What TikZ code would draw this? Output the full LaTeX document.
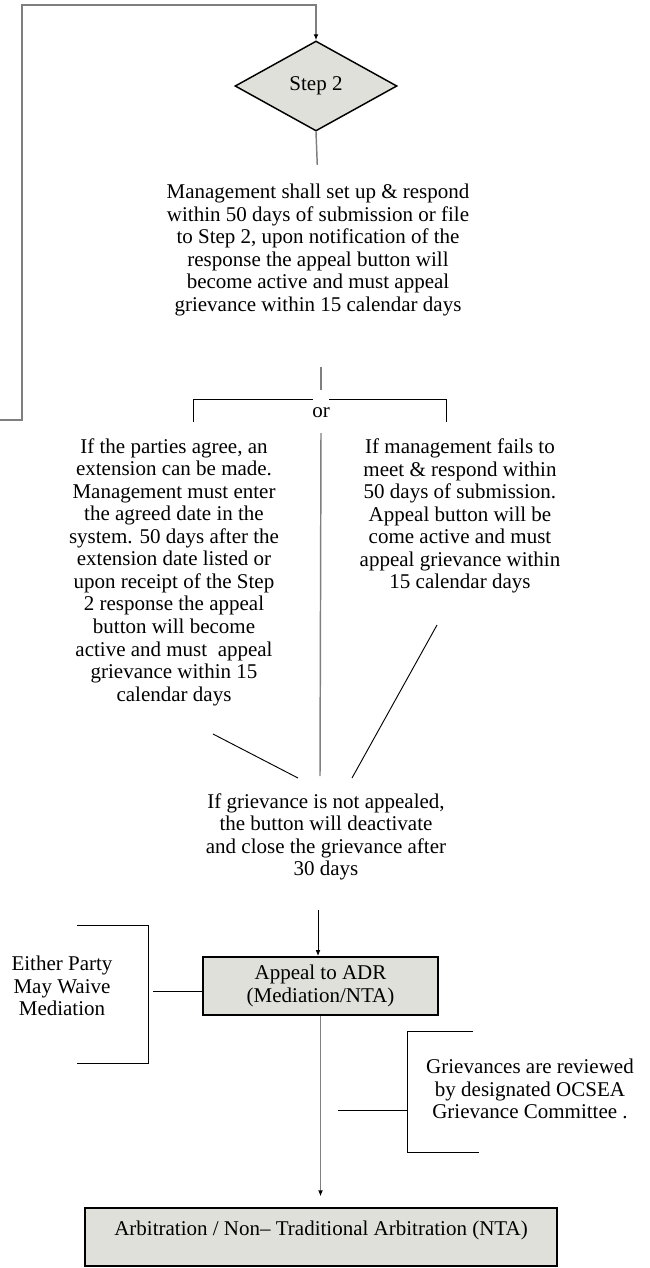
\documentclass[tikz,border=0pt]{standalone}
\usepackage{fontspec}
\setmainfont{Liberation Serif}
\usetikzlibrary{shapes.geometric,arrows.meta}
\definecolor{shade}{HTML}{E0E0DA}
\definecolor{linkgray}{HTML}{7F7F7F}

\begin{document}
\begin{tikzpicture}[x=0.75pt,y=-0.75pt,>={Latex[length=4.5pt,width=3.6pt,color=black]},
    every node/.style={font=\fontsize{15.75}{16.9}\selectfont},
    txt/.style={align=center,inner sep=0pt},
    graylink/.style={draw=linkgray,line width=1.1pt},
    thinlink/.style={draw=black,line width=0.7pt},
    shadebox/.style={draw=black,line width=1.4pt,fill=shade,inner sep=0pt}]
    \useasboundingbox (0,0) rectangle (650,1268);
    \node[diamond,shadebox,line width=1.1pt,aspect=1.8,minimum width=121.5pt,minimum height=67.5pt] (step) at (316,86) {Step 2};
    \node[txt] (mgmt) at (318,250) {Management shall set up \& respond\\within 50 days of submission or file\\to Step 2, upon notification of the\\response the appeal button will\\become active and must appeal\\grievance within 15 calendar days};
    \node (or) at (321,413) {or};
    \node[txt] (agree) at (174,572) {If the parties agree, an\\extension can be made.\\Management must enter\\the agreed date in the\\system. 50 days after the\\extension date listed or\\upon receipt of the Step\\2 response the appeal\\button will become\\active and must\ \ appeal\\grievance within 15\\calendar days};
    \node[txt] (fails) at (460,516) {If management fails to\\meet \& respond within\\50 days of submission.\\Appeal button will be\\come active and must\\appeal grievance within\\15 calendar days};
    \node[txt] (lapse) at (326,837) {If grievance is not appealed,\\the button will deactivate\\and close the grievance after\\30 days};
    \node[shadebox,align=center,minimum width=176.25pt,minimum height=43.5pt] (adr) at (320.5,986) {Appeal to ADR\\(Mediation/NTA)};
    \node[txt] (waive) at (62,986) {Either Party\\May Waive\\Mediation};
    \node[txt] (review) at (530,1089) {Grievances are reviewed\\by designated OCSEA\\Grievance Committee .};
    \node[shadebox,minimum width=354pt,text height=20.25pt,text depth=23.25pt] (arb) at (321,1237) {Arbitration / Non– Traditional Arbitration (NTA)};
    \coordinate (loopin) at (0,420);
    \coordinate (forktop) at (321,367);
    \coordinate (forkbot) at (321,390);
    \coordinate (midtop) at (321,433);
    \coordinate (midbot) at (320,776);
    \coordinate (adrin) at (318,910);
    \draw[graylink,->] (loopin) -| (22,5) -| (step.north);
    \draw[graylink,shorten >=14.25pt] (step.south) -- (mgmt.north);
    \draw[graylink] (forktop) -- (forkbot);
    \draw[thinlink] (193,422) -- (193,399) -- (313,399);
    \draw[thinlink] (329,399) -- (446,399) -- (446,422);
    \draw[graylink] (midtop) -- (midbot);
    \draw[thinlink] (213,734) -- (298,778);
    \draw[thinlink] (437,625) -- (352,778);
    \draw[thinlink,->] (adrin) -- (adrin |- adr.north);
    \draw[thinlink] (77,925) -- (148,925) -- (148,1063) -- (77,1063);
    \draw[thinlink] (153,991) -- ([yshift=-3.75pt]adr.west);
    \draw[graylink,->,shorten >=8pt] (adr.south) -- (adr.south |- arb.north);
    \draw[thinlink] (473,1031) -- (407,1031) -- (407,1152) -- (479,1152);
    \draw[thinlink] (338,1110) -- (407,1110);
  \end{tikzpicture}
\end{document}
